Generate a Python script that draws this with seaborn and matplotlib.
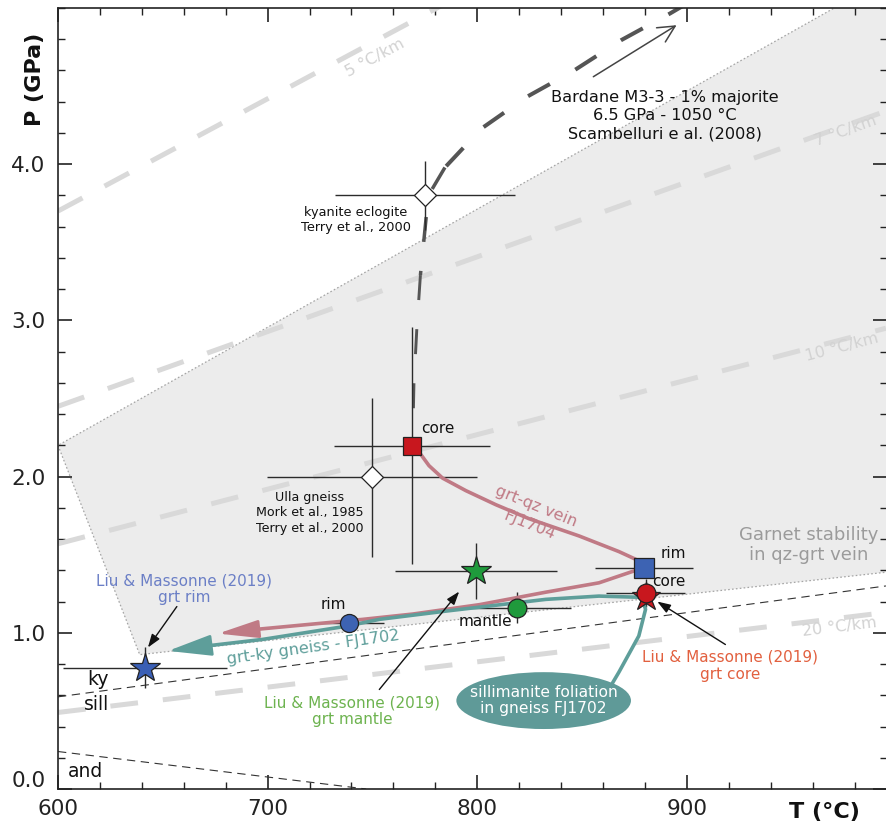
import numpy as np
import pandas as pd
import matplotlib
matplotlib.use("Agg")
import matplotlib.pyplot as plt
import matplotlib.transforms as mtransforms
from matplotlib.patches import Ellipse
from matplotlib.ticker import MultipleLocator
import seaborn as sns

sns.set_theme(style="ticks")
plt.rcParams["font.family"] = ["DejaVu Sans"]
plt.rcParams["lines.scale_dashes"] = False

# ---------------- data ----------------
# Garnet stability field of the qz-grt vein (T in °C, P in GPa)
field_T = [600, 639, 1010, 1010, 600]
field_P = [2.20, 0.86, 1.41, 5.30, 2.20]

# Geotherms: P at 600 °C and at 995 °C, label positions
geo_names = ["5 °C/km", "7 °C/km", "10 °C/km", "20 °C/km"]
geo_T = [600, 995]
geo_P600 = [3.70, 2.45, 1.57, 0.49]
geo_P995 = [6.54, 4.34, 2.95, 1.13]
geo_lab_T = [751, 976, 974, 973]
geo_lab_P = [4.68, 4.21, 2.83, 1.035]

# Aluminosilicate reactions
kysill_T = [600, 995]
kysill_P = [0.59, 1.30]
andsill_T = [600, 747]
andsill_P = [0.24, 0.0]

# Bardane M3-3 path
bard_T = [901.5, 892, 868.8, 845.5, 823.5, 802, 784.6, 776.7, 775.5, 772.9, 771.2, 769.8, 769.3]
bard_P = [5.04, 4.965, 4.795, 4.594, 4.43, 4.228, 3.979, 3.80, 3.64, 3.29, 2.95, 2.59, 2.27]

# grt-qz vein FJ1704 path (ends at arrow tip)
vein_T = [768.9, 773.2, 777, 783.5, 794.6, 808.9, 824.8, 848.6, 867.6, 875.7, 879.5,
          875.7, 858.1, 832.7, 801, 769.2, 745.4, 693]
vein_P = [2.198, 2.14, 2.07, 1.99, 1.91, 1.82, 1.73, 1.62, 1.52, 1.47, 1.43,
          1.40, 1.32, 1.26, 1.18, 1.12, 1.086, 1.02]
vein_tip = (676.3, 0.995)

# grt-ky gneiss FJ1702 path
gneiss_T = [858.1, 867.6, 877.1, 880.3, 878.6, 858.1, 832.7, 785.1, 753.3, 737.5, 697.8, 671]
gneiss_P = [0.532, 0.748, 0.980, 1.150, 1.227, 1.235, 1.214, 1.139, 1.086, 1.042, 0.958, 0.916]
gneiss_tip = (652.5, 0.884)

# P-T estimates with uncertainties
pt_T = [775.2, 749.7, 768.9, 879.5, 880.3, 799.4, 819.2, 739.0, 641.4]
pt_P = [3.80, 1.995, 2.198, 1.412, 1.257, 1.395, 1.161, 1.065, 0.777]
pt_dT = [43, 50, 37, 23.3, 19, 38.8, 25.4, 16.3, 39]
pt_dP = [0.22, 0.51, 0.76, 0.0, 0.09, 0.18, 0.10, 0.0, 0.13]
pt_marker = ["D", "D", "s", "s", "o", "*", "o", "o", "*"]
pt_face = ["white", "white", "#c8171e", "#3d63b3", "#c8171e", "#1f9a3c",
           "#1f9a3c", "#3d63b3", "#3a5fb5"]
pt_size = [11, 11, 13.5, 14, 13.5, 22, 13.5, 13, 22]

# ---------------- figure ----------------
fig = plt.figure(figsize=(8.87, 8.24), dpi=100)
ax = fig.add_axes([58 / 887, 35 / 824, 829 / 887, 781 / 824])
ax.set_xlim(600, 995.5)
ax.set_ylim(0, 5.0)


def text_angle(slope):
    p0 = ax.transData.transform((700, 1.0))
    p1 = ax.transData.transform((800, 1.0 + 100 * slope))
    return np.degrees(np.arctan2(p1[1] - p0[1], p1[0] - p0[0]))


# garnet stability field
ax.fill(field_T, field_P, facecolor="#ececec", edgecolor="none", zorder=0.5)
ax.plot(field_T, field_P, ls=(0, (1.2, 1.6)), color="#a5a5a5", lw=0.9, zorder=0.6)

# geotherms
for name, p0, p1, lt, lp in zip(geo_names, geo_P600, geo_P995, geo_lab_T, geo_lab_P):
    ax.plot(geo_T, [p0, p1], color="#d9d9d9", lw=3.6, ls=(0, (20, 18)),
            solid_capstyle="butt", dash_capstyle="butt", zorder=1)
    slope = (p1 - p0) / (geo_T[1] - geo_T[0])
    ax.text(lt, lp, name, color="#d2d2d2", fontsize=11.5, rotation=text_angle(slope),
            rotation_mode="anchor", ha="center", va="center", clip_on=True, zorder=1.1)

# aluminosilicate reactions
ax.plot(kysill_T, kysill_P, color="#333333", lw=0.8, ls=(0, (6, 4)), zorder=1.5)
ax.plot(andsill_T, andsill_P, color="#333333", lw=0.8, ls=(0, (6, 4)), zorder=1.5)
ax.text(619, 0.70, "ky", fontsize=13.5, ha="center", va="center", color="#111111")
ax.text(618.5, 0.54, "sill", fontsize=13.5, ha="center", va="center", color="#111111")
ax.text(613, 0.115, "and", fontsize=13.5, ha="center", va="center", color="#111111")

# Bardane path, tapering downwards
seg_bounds = [(0, 7, 2.9), (6, 10, 2.5), (9, 13, 2.1)]
for i0, i1, lw in seg_bounds:
    ax.plot(bard_T[i0:i1], bard_P[i0:i1], color="#555555", lw=lw,
            ls=(0, (18, 21)), dash_capstyle="butt", solid_joinstyle="round", zorder=2)
ax.annotate("", xy=(895.1, 4.89), xytext=(855.4, 4.56),
            arrowprops=dict(arrowstyle="->,head_length=0.6,head_width=0.3",
                            color="#444444", lw=1.1, shrinkA=0, shrinkB=0,
                            mutation_scale=20), zorder=2)
ax.text(889.5, 4.31, "Bardane M3-3 - 1% majorite\n6.5 GPa - 1050 °C\nScambelluri e al. (2008)",
        fontsize=11.6, ha="center", va="center", linespacing=1.25, color="#111111")

# error bars
ax.errorbar(pt_T, pt_P, xerr=pt_dT, yerr=pt_dP, fmt="none", ecolor="#2b2b2b",
            elinewidth=1.0, capsize=0, zorder=3)

# metamorphic paths
vein_df = pd.DataFrame({"T": vein_T, "P": vein_P})
gneiss_df = pd.DataFrame({"T": gneiss_T, "P": gneiss_P})
sns.lineplot(data=vein_df, x="T", y="P", sort=False, estimator=None, color="#c07a85",
             lw=2.6, ax=ax, zorder=4)
sns.lineplot(data=gneiss_df, x="T", y="P", sort=False, estimator=None, color="#5e9e9a",
             lw=2.6, ax=ax, zorder=4)
ax.annotate("", xy=vein_tip, xytext=(vein_T[-1], vein_P[-1]),
            arrowprops=dict(arrowstyle="-|>,head_length=2.5,head_width=0.55",
                            color="#c07a85", lw=2.0, shrinkA=0, shrinkB=0,
                            mutation_scale=10), zorder=4)
ax.annotate("", xy=gneiss_tip, xytext=(gneiss_T[-1], gneiss_P[-1]),
            arrowprops=dict(arrowstyle="-|>,head_length=2.7,head_width=0.65",
                            color="#5e9e9a", lw=2.0, shrinkA=0, shrinkB=0,
                            mutation_scale=10), zorder=4)

# sillimanite foliation ellipse
ax.add_patch(Ellipse((831.7, 0.566), 83.3, 0.364, facecolor="#5f9a98",
                     edgecolor="none", zorder=4.5))
ax.text(831.7, 0.566, "sillimanite foliation\nin gneiss FJ1702", color="white",
        fontsize=11.2, ha="center", va="center", linespacing=1.15, zorder=4.6)

# path labels
ax.text(826.5, 1.75, "grt-qz vein\nFJ1704", color="#c07a85", fontsize=11.5,
        ha="center", va="center", rotation=-22, rotation_mode="anchor",
        linespacing=1.4, zorder=4)
ax.text(722, 0.905, "grt-ky gneiss - FJ1702", color="#5e9e9a", fontsize=11.5,
        ha="center", va="center", rotation=8, rotation_mode="anchor", zorder=4)

# markers (red star sits behind the red circle)
ax.plot(880.3, 1.23, marker="*", ms=21, mfc="#c8171e", mec="#222222", mew=0.9,
        ls="none", zorder=5.5)
for t, p, m, f, s in zip(pt_T, pt_P, pt_marker, pt_face, pt_size):
    ax.plot(t, p, marker=m, ms=s, mfc=f, mec="#222222", mew=0.9, ls="none", zorder=6)

# sample labels
ax.text(742, 3.64, "kyanite eclogite\nTerry et al., 2000", fontsize=9.3,
        ha="center", va="center", linespacing=1.2, color="#111111")
ax.text(720, 1.77, "Ulla gneiss\nMork et al., 1985\nTerry et al., 2000", fontsize=9.1,
        ha="center", va="center", linespacing=1.25, color="#111111")
ax.text(773.3, 2.31, "core", fontsize=11, ha="left", va="center", color="#111111")
ax.text(887.6, 1.51, "rim", fontsize=11, ha="left", va="center", color="#111111")
ax.text(891.4, 1.33, "core", fontsize=11, ha="center", va="center", color="#111111", zorder=7)
ax.text(731.4, 1.18, "rim", fontsize=11, ha="center", va="center", color="#111111")
ax.text(803.8, 1.07, "mantle", fontsize=11, ha="center", va="center", color="#111111")

ax.text(958, 1.56, "Garnet stability\nin qz-grt vein", fontsize=13, color="#9b9b9b",
        ha="center", va="center", linespacing=1.15)

# Liu & Massonne (2019) labels with pointers
liu = [
    ("Liu & Massonne (2019)\ngrt rim", (660, 1.277), "#6b7fc6", (656.7, 1.168), (642.9, 0.906)),
    ("Liu & Massonne (2019)\ngrt mantle", (740.5, 0.496), "#6db34f", (753.3, 0.637), (791.4, 1.264)),
    ("Liu & Massonne (2019)\ngrt core", (920.5, 0.79), "#e2603f", (918.4, 0.925), (885.9, 1.20)),
]
for txt, pos, col, start, tip in liu:
    ax.text(pos[0], pos[1], txt, color=col, fontsize=11, ha="center", va="center",
            linespacing=1.15, zorder=7)
    ax.annotate("", xy=tip, xytext=start,
                arrowprops=dict(arrowstyle="-|>,head_length=0.4,head_width=0.14",
                                color="#111111", lw=1.0, shrinkA=0, shrinkB=0,
                                mutation_scale=20), zorder=7)

# ---------------- axes styling ----------------
ax.xaxis.set_major_locator(MultipleLocator(100))
ax.xaxis.set_minor_locator(MultipleLocator(20))
ax.yaxis.set_major_locator(MultipleLocator(1.0))
ax.yaxis.set_minor_locator(MultipleLocator(0.2))
ax.set_yticks([0, 1, 2, 3, 4])
ax.set_yticklabels(["0.0", "1.0", "2.0", "3.0", "4.0"])
ax.set_xticks([600, 700, 800, 900])
ax.tick_params(which="major", direction="in", length=10, width=1.2, top=True,
               right=True, labelsize=15.5, colors="#222222")
ax.tick_params(axis="x", which="major", pad=7)
ax.tick_params(axis="y", which="major", pad=9)
ax.tick_params(which="minor", direction="in", length=5, width=1.0, top=True,
               right=True, colors="#222222")
for sp in ax.spines.values():
    sp.set_linewidth(1.2)
    sp.set_color("#222222")
ax.set_xlabel("")
ax.set_ylabel("")
ax.grid(False)

# lift the 0.0 label clear of the corner
shift = mtransforms.ScaledTranslation(0, 7.5 / 72, fig.dpi_scale_trans)
lbl0 = ax.get_yticklabels()[0]
lbl0.set_transform(lbl0.get_transform() + shift)

fig.text(35 / 887, 1 - 79 / 824, "P (GPa)", rotation=90, fontsize=16,
         fontweight="bold", ha="center", va="center", color="#111111")
fig.text(824 / 887, 1 - 812 / 824, "T (°C)", fontsize=16, fontweight="bold",
         ha="center", va="center", color="#111111")

fig.savefig("out.png", dpi=100)
